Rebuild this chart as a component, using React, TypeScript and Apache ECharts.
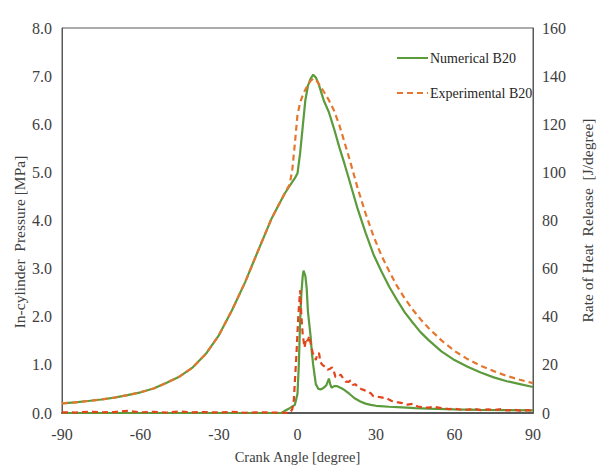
import React, { useEffect, useRef } from "react";
import * as echarts from "echarts";

// Crank angle grid for pressure curves (degree)
const pNumAngles = [-90, -85, -80, -75, -70, -65, -60, -55, -50, -45, -40, -35, -30, -25, -20, -15, -10, -5, -3, -1, 0, 1, 2, 3, 4, 5, 6, 7, 8, 10, 12, 14, 16, 18, 20, 23, 26, 29, 32, 35, 38, 41, 44, 47, 50, 55, 60, 65, 70, 75, 80, 85, 90];
const pNumValues = [0.2, 0.22, 0.25, 0.28, 0.32, 0.37, 0.43, 0.51, 0.63, 0.76, 0.95, 1.23, 1.62, 2.14, 2.72, 3.38, 4.03, 4.55, 4.72, 4.88, 4.98, 5.4, 5.95, 6.5, 6.8, 6.95, 7.03, 6.97, 6.85, 6.5, 6.25, 5.9, 5.52, 5.17, 4.8, 4.24, 3.75, 3.3, 2.95, 2.63, 2.35, 2.09, 1.88, 1.68, 1.52, 1.28, 1.1, 0.96, 0.84, 0.74, 0.66, 0.6, 0.54];

const pExpAngles = [-90, -85, -80, -75, -70, -65, -60, -55, -50, -45, -40, -35, -30, -25, -20, -15, -10, -5, -3, -2, -1, 0, 1, 2, 3, 4, 5, 6, 7, 8, 10, 12, 14, 16, 18, 20, 23, 26, 29, 32, 35, 38, 41, 44, 47, 50, 55, 60, 65, 70, 75, 80, 85, 90];
const pExpValues = [0.2, 0.22, 0.25, 0.28, 0.32, 0.37, 0.43, 0.51, 0.63, 0.76, 0.95, 1.23, 1.62, 2.14, 2.72, 3.38, 4.03, 4.55, 4.75, 5.05, 5.6, 6.2, 6.45, 6.6, 6.72, 6.82, 6.9, 6.95, 6.93, 6.85, 6.68, 6.5, 6.28, 5.98, 5.62, 5.25, 4.67, 4.15, 3.68, 3.28, 2.95, 2.64, 2.38, 2.15, 1.95, 1.77, 1.51, 1.29, 1.12, 0.98, 0.87, 0.77, 0.69, 0.62];

// Rate of heat release (J/degree)
const hNumAngles = [-90, -10, -6, -5, -3, -1, 0, 0.5, 1, 1.5, 2, 2.3, 3, 3.5, 4, 5, 5.5, 6, 6.5, 7, 8, 9, 10, 11, 12, 12.5, 13, 14, 15, 17, 18, 20, 22, 24, 26, 28, 30, 35, 40, 45, 50, 60, 70, 80, 90];
const hNumValues = [0, 0, 0, 0.8, 2.0, 3.4, 8, 20, 38, 50, 57, 59.2, 57, 52, 42, 32, 25, 20, 16, 12, 10, 9.8, 10.5, 11.5, 14.3, 12, 10.5, 11.2, 11.2, 10.2, 9.5, 7.8, 6, 4.8, 3.9, 3.4, 3.0, 2.6, 2.3, 2.0, 1.8, 1.5, 1.3, 1.2, 1.1];

const hExpAngles = [-90, -85, -80, -75, -70, -65, -60, -55, -50, -45, -40, -35, -30, -25, -20, -15, -10, -5, -3, -2, -1.4, -0.4, 0.3, 1, 1.5, 2, 2.7, 3.3, 3.9, 4.5, 5.1, 5.8, 6.4, 7, 7.6, 8.2, 8.8, 9.5, 10.7, 11.5, 12.5, 13.2, 13.8, 14.5, 15.7, 16.5, 17.5, 18.5, 19.4, 20.3, 21.2, 22, 23.1, 24.3, 25.5, 26.5, 28, 29, 30.4, 32, 34, 36, 38, 40, 42, 44, 46, 48, 50, 52, 55, 58, 60, 63, 65, 68, 70, 73, 75, 78, 80, 83, 85, 88, 90];
const hExpValues = [0.3, 0.2, 0.5, 0.3, 0.4, 0.9, 0.3, 0.5, 0.2, 0.6, 0.3, 0.4, 0.2, 0.5, 0.1, 0.3, 0.2, 0.1, 0, 1.5, 5.4, 24.5, 40, 51, 40, 32.6, 27.2, 31, 29.9, 32, 28.6, 25, 23.8, 22, 24.5, 25, 21.1, 20, 19, 18, 18.4, 19, 17.7, 15, 15, 16, 14.3, 13, 12.9, 13.5, 11.6, 12, 10.9, 10, 9.5, 9, 8.2, 7, 6.8, 6.5, 6.1, 5, 4.5, 4.1, 3.5, 3.8, 2.7, 2.4, 2.2, 2.6, 2.0, 1.6, 1.8, 1.3, 1.4, 1.6, 1.2, 1.5, 1.2, 1.6, 1.1, 1.3, 1.0, 1.2, 0.9];

const xTicks = { min: -90, max: 90, interval: 30 };
const leftTicks = { min: 0, max: 8, interval: 1 };
const rightTicks = { min: 0, max: 160, interval: 20 };

const zip = (a: number[], b: number[]) => a.map((x, i) => [x, b[i]]);

const GREEN = "#5B9B3B";
const ORANGE = "#E4772E";
const RED = "#E2451C";
const FONT = "'Liberation Serif', 'DejaVu Serif', serif";

export default function App() {
  const ref = useRef<HTMLDivElement>(null);
  useEffect(() => {
    if (!ref.current) return;
    const chart = echarts.init(ref.current, undefined, { renderer: "svg" });
    const labelStyle = { color: "#404040", fontFamily: FONT, fontSize: 16 };
    chart.setOption({
      animation: false,
      backgroundColor: "#fff",
      textStyle: { fontFamily: FONT },
      grid: { left: 62, right: 56, top: 28, bottom: 49, show: true, borderColor: "#595959", borderWidth: 1 },
      legend: {
        data: ["Numerical B20", "Experimental B20"],
        orient: "vertical",
        left: 391,
        top: 46,
        itemWidth: 31,
        itemHeight: 14,
        itemGap: 21,
        itemStyle: { opacity: 0 },
        textStyle: { color: "#262626", fontFamily: FONT, fontSize: 14, padding: [0, 0, 0, -3] },
      },
      graphic: [
        {
          type: "text",
          x: 19,
          y: 242,
          rotation: Math.PI / 2,
          style: {
            text: "In-cylinder  Pressure [MPa]",
            fill: "#404040",
            font: `15.5px ${FONT}`,
            align: "center",
            verticalAlign: "middle",
          },
        },
      ],
      xAxis: {
        type: "value",
        ...xTicks,
        name: "Crank Angle [degree]",
        nameLocation: "middle",
        nameGap: 36,
        nameTextStyle: { ...labelStyle, fontSize: 14.5 },
        axisLine: { onZero: false, lineStyle: { color: "#595959", width: 2 } },
        axisTick: { show: false },
        splitLine: { show: false },
        axisLabel: { ...labelStyle, margin: 13 },
      },
      yAxis: [
        {
          type: "value",
          ...leftTicks,
          axisLine: { show: true, onZero: false, lineStyle: { color: "#595959" } },
          axisTick: { show: false },
          splitLine: { show: false },
          axisLabel: { ...labelStyle, margin: 10, formatter: (v: number) => v.toFixed(1) },
        },
        {
          type: "value",
          ...rightTicks,
          position: "right",
          name: "Rate of Heat  Release  [J/degree]",
          nameLocation: "middle",
          nameGap: 46,
          nameRotate: 90,
          nameTextStyle: { ...labelStyle, fontSize: 15.5 },
          axisLine: { show: true, onZero: false, lineStyle: { color: "#595959" } },
          axisTick: { show: false },
          splitLine: { show: false },
          axisLabel: { ...labelStyle, margin: 9 },
        },
      ],
      series: [
        {
          name: "Numerical B20",
          type: "line",
          yAxisIndex: 0,
          symbol: "none",
          data: zip(pNumAngles, pNumValues),
          lineStyle: { color: GREEN, width: 2.2 },
          itemStyle: { color: GREEN },
          z: 3,
        },
        {
          name: "Experimental B20",
          type: "line",
          yAxisIndex: 0,
          symbol: "none",
          data: zip(pExpAngles, pExpValues),
          lineStyle: { color: ORANGE, width: 2.2, type: [6, 4] },
          itemStyle: { color: ORANGE },
          z: 4,
        },
        {
          name: "Numerical HRR",
          type: "line",
          yAxisIndex: 1,
          symbol: "none",
          data: zip(hNumAngles, hNumValues),
          lineStyle: { color: GREEN, width: 2.2 },
          z: 3,
        },
        {
          name: "Experimental HRR",
          type: "line",
          yAxisIndex: 1,
          symbol: "none",
          data: zip(hExpAngles, hExpValues),
          lineStyle: { color: RED, width: 2.2, type: [6, 4] },
          z: 4,
        },
      ],
    });
    return () => chart.dispose();
  }, []);
  return <div ref={ref} style={{ width: 603, height: 469, position: "absolute", left: 0, top: 0 }} />;
}
